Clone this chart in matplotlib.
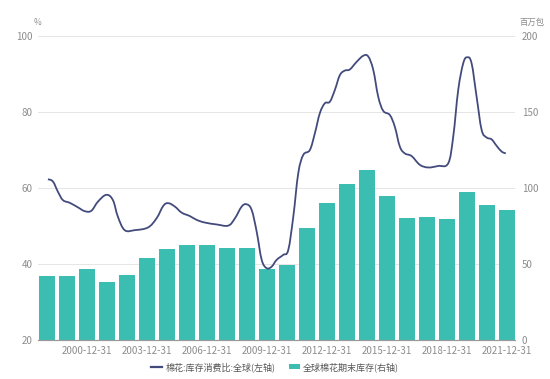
import numpy as np
import matplotlib as mpl
import matplotlib.pyplot as plt
from matplotlib.lines import Line2D
from matplotlib.patches import Patch, PathPatch
from matplotlib.path import Path

COLORS = {
    "line": "#434b7c",
    "bar": "#3bbdb1",
    "grid": "#e6e6e6",
    "axis": "#9a9a9a",
    "text": "#8c8c8c",
    "legend": "#555555",
}

# global ending stocks, million bales (right axis)
YEARS = list(range(1998, 2022))
STOCKS = [42.1, 42.3, 46.9, 37.9, 42.8, 53.9, 60.1, 62.5, 62.5, 60.5, 60.5, 46.9,
          49.3, 73.5, 90.1, 102.9, 111.6, 95.0, 80.5, 80.9, 79.8, 97.4, 88.6, 85.7]

# stock-to-use ratio, % (left axis)
RATIO_T = [1998.05, 1998.30, 1998.55, 1998.80, 1999.14, 1999.55, 1999.89, 2000.22,
           2000.55, 2000.97, 2001.30, 2001.55, 2001.89, 2002.39, 2003.05, 2003.48,
           2003.82, 2004.07, 2004.40, 2004.74, 2005.15, 2005.49, 2005.90, 2006.49,
           2007.07, 2007.40, 2007.74, 2007.99, 2008.24, 2008.49, 2008.74, 2008.99,
           2009.24, 2009.49, 2009.82, 2010.07, 2010.32, 2010.57, 2010.82, 2011.15,
           2011.40, 2011.65, 2011.90, 2012.15, 2012.40, 2012.65, 2012.90, 2013.15,
           2013.49, 2013.82, 2014.07, 2014.32, 2014.57, 2014.82, 2015.15, 2015.40,
           2015.65, 2015.90, 2016.24, 2016.65, 2017.07, 2017.57, 2018.07, 2018.32,
           2018.57, 2018.82, 2019.02, 2019.24, 2019.49, 2019.74, 2019.99, 2020.24,
           2020.49, 2020.74, 2020.95]
RATIO = [62.3, 61.7, 59.0, 56.8, 56.1, 54.9, 53.9, 54.0,
         56.4, 58.2, 56.8, 52.4, 48.9, 48.9, 49.6, 52.0,
         55.3, 56.0, 55.1, 53.5, 52.6, 51.6, 50.9, 50.4,
         50.1, 52.0, 55.1, 55.7, 54.2, 48.5, 41.1, 38.9,
         39.3, 41.1, 42.4, 43.7, 52.4, 63.9, 68.7, 70.0,
         74.4, 79.7, 82.3, 82.7, 85.8, 89.7, 90.9, 91.2,
         93.2, 94.8, 94.6, 91.1, 84.0, 80.3, 79.2, 76.1,
         70.9, 69.1, 68.4, 66.1, 65.4, 65.8, 66.5, 73.5,
         85.8, 92.8, 94.4, 92.8, 84.0, 75.3, 73.3, 72.8,
         71.1, 69.6, 69.1]

XTICKS = [2000, 2003, 2006, 2009, 2012, 2015, 2018, 2021]
XTICK_LABELS = [f"{y}-12-31" for y in XTICKS]


def smooth_path(x, y, k=0.18):
    # cubic bezier through the points (rendering only, like a "smooth" line)
    x = np.asarray(x, float)
    y = np.asarray(y, float)
    verts = [(x[0], y[0])]
    codes = [Path.MOVETO]
    n = len(x)
    for i in range(n - 1):
        p0 = max(i - 1, 0)
        p3 = min(i + 2, n - 1)
        c1 = (x[i] + k * (x[i + 1] - x[p0]), y[i] + k * (y[i + 1] - y[p0]))
        c2 = (x[i + 1] - k * (x[p3] - x[i]), y[i + 1] - k * (y[p3] - y[i]))
        verts += [c1, c2, (x[i + 1], y[i + 1])]
        codes += [Path.CURVE4] * 3
    return Path(verts, codes)


def main():
    mpl.rcParams["font.family"] = ["Noto Sans CJK SC", "DejaVu Sans"]
    mpl.rcParams["font.size"] = 7

    fig = plt.figure(figsize=(5.5, 3.79), dpi=100)
    ax = fig.add_axes([0.069, 0.103, 0.867, 0.802])
    ax2 = ax.twinx()

    # bars on right axis, line on left axis drawn above
    ax2.bar(YEARS, STOCKS, width=0.8, color=COLORS["bar"], zorder=2)
    ax.set_zorder(ax2.get_zorder() + 1)
    ax.patch.set_visible(False)
    ax.add_patch(PathPatch(smooth_path(RATIO_T, RATIO), facecolor="none",
                           edgecolor=COLORS["line"], linewidth=1.3, zorder=3))

    ax.set_xlim(1997.55, 2021.4)
    ax.set_ylim(20, 100)
    ax2.set_ylim(0, 200)
    ax.set_yticks([20, 40, 60, 80, 100])
    ax2.set_yticks([0, 50, 100, 150, 200])
    ax.set_xticks(XTICKS, XTICK_LABELS)

    ax2.grid(axis="y", color=COLORS["grid"], linewidth=0.7, zorder=0)
    ax2.set_axisbelow(True)

    for a in (ax, ax2):
        for s in ("top", "left", "right"):
            a.spines[s].set_visible(False)
        a.spines["bottom"].set_color(COLORS["axis"])
        a.tick_params(length=0, colors=COLORS["text"], labelsize=7)
    ax.tick_params(axis="y", pad=4)
    ax2.tick_params(axis="y", pad=5)
    ax.tick_params(axis="x", pad=4)

    fig.text(0.062, 0.935, "%", color=COLORS["text"], fontsize=6)
    fig.text(0.945, 0.935, "百万包", color=COLORS["text"], fontsize=6)

    handles = [
        Line2D([], [], color=COLORS["line"], linewidth=1.6),
        Patch(facecolor=COLORS["bar"]),
    ]
    fig.legend(handles, ["棉花:库存消费比:全球(左轴)", "全球棉花期末库存(右轴)"],
               loc="center", bbox_to_anchor=(0.5, 0.032), ncol=2, frameon=False,
               fontsize=6.5, labelcolor=COLORS["legend"], handlelength=1.2,
               handleheight=0.6, columnspacing=1.5, handletextpad=0.4)

    fig.savefig("out.png", dpi=100)
    plt.close(fig)


if __name__ == "__main__":
    main()
